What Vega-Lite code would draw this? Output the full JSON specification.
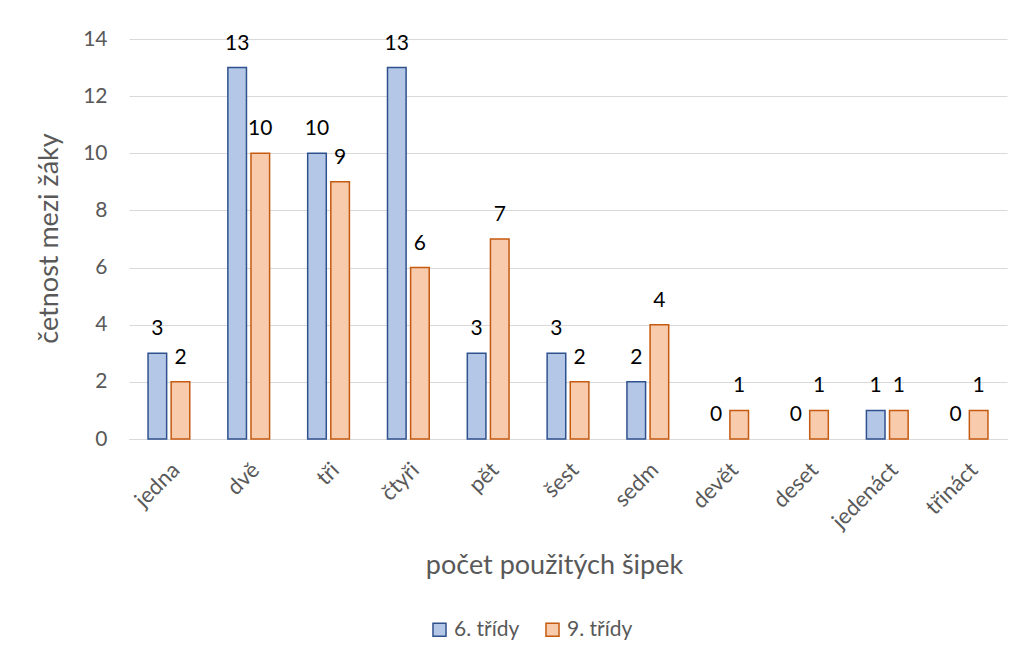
{
  "$schema": "https://vega.github.io/schema/vega-lite/v6.json",
  "width": 878,
  "height": 400,
  "autosize": {"type": "none"},
  "padding": {"left": 129, "top": 39, "right": 17, "bottom": 222},
  "background": "white",
  "config": {
    "font": "Lato",
    "view": {"stroke": null}
  },
  "data": {
    "values": [
      {"pocet": "jedna", "trida": "6. třídy", "n": 3},
      {"pocet": "jedna", "trida": "9. třídy", "n": 2},
      {"pocet": "dvě", "trida": "6. třídy", "n": 13},
      {"pocet": "dvě", "trida": "9. třídy", "n": 10},
      {"pocet": "tři", "trida": "6. třídy", "n": 10},
      {"pocet": "tři", "trida": "9. třídy", "n": 9},
      {"pocet": "čtyři", "trida": "6. třídy", "n": 13},
      {"pocet": "čtyři", "trida": "9. třídy", "n": 6},
      {"pocet": "pět", "trida": "6. třídy", "n": 3},
      {"pocet": "pět", "trida": "9. třídy", "n": 7},
      {"pocet": "šest", "trida": "6. třídy", "n": 3},
      {"pocet": "šest", "trida": "9. třídy", "n": 2},
      {"pocet": "sedm", "trida": "6. třídy", "n": 2},
      {"pocet": "sedm", "trida": "9. třídy", "n": 4},
      {"pocet": "devět", "trida": "6. třídy", "n": 0},
      {"pocet": "devět", "trida": "9. třídy", "n": 1},
      {"pocet": "deset", "trida": "6. třídy", "n": 0},
      {"pocet": "deset", "trida": "9. třídy", "n": 1},
      {"pocet": "jedenáct", "trida": "6. třídy", "n": 1},
      {"pocet": "jedenáct", "trida": "9. třídy", "n": 1},
      {"pocet": "třináct", "trida": "6. třídy", "n": 0},
      {"pocet": "třináct", "trida": "9. třídy", "n": 1}
    ]
  },
  "encoding": {
    "x": {
      "field": "pocet",
      "type": "nominal",
      "sort": null,
      "scale": {"paddingInner": 0.477, "paddingOuter": 0.2385},
      "axis": {
        "title": "počet použitých šipek",
        "labelAngle": -45,
        "labelFont": "Lato",
        "labelFontSize": 22,
        "labelColor": "#595959",
        "titleFont": "Lato",
        "titleFontSize": 27,
        "titleFontWeight": "normal",
        "titleColor": "#595959",
        "ticks": false,
        "domainColor": "#D9D9D9",
        "domainWidth": 1,
        "labelPadding": 20,
        "titleX": 425,
        "titleAlign": "center",
        "titleY": 126,
        "titleBaseline": "middle"
      }
    },
    "xOffset": {
      "field": "trida",
      "type": "nominal",
      "sort": ["6. třídy", "9. třídy"],
      "scale": {"paddingInner": 0.195, "paddingOuter": 0}
    },
    "y": {
      "field": "n",
      "type": "quantitative",
      "scale": {"domain": [0, 14], "nice": false},
      "axis": {
        "title": "četnost mezi žáky",
        "values": [0, 2, 4, 6, 8, 10, 12, 14],
        "labelFont": "Lato",
        "labelFontSize": 21,
        "labelColor": "#595959",
        "titleFont": "Lato",
        "titleFontSize": 27,
        "titleFontWeight": "normal",
        "titleColor": "#595959",
        "grid": true,
        "gridColor": "#D9D9D9",
        "gridWidth": 1,
        "domain": false,
        "ticks": false,
        "labelPadding": 22,
        "titleX": -80,
        "titleY": 199,
        "titleBaseline": "middle"
      }
    }
  },
  "layer": [
    {
      "transform": [{"filter": "datum.n > 0"}],
      "mark": {"type": "bar", "strokeWidth": 1.5},
      "encoding": {
        "fill": {
          "field": "trida",
          "type": "nominal",
          "scale": {"domain": ["6. třídy", "9. třídy"], "range": ["#B4C7E7", "#F8CBAD"]},
          "legend": {
            "title": null,
            "orient": "none",
            "legendX": 300,
            "legendY": 580,
            "direction": "horizontal",
            "symbolType": "square",
            "symbolSize": 170,
            "symbolStrokeWidth": 1.5,
            "columnPadding": 22,
            "labelOffset": 4,
            "labelFont": "Lato",
            "labelFontSize": 21,
            "labelColor": "#595959"
          }
        },
        "stroke": {
          "field": "trida",
          "type": "nominal",
          "scale": {"domain": ["6. třídy", "9. třídy"], "range": ["#2F528F", "#C55A11"]},
          "legend": {
            "title": null,
            "orient": "none",
            "legendX": 300,
            "legendY": 580,
            "direction": "horizontal",
            "symbolType": "square",
            "symbolSize": 170,
            "symbolStrokeWidth": 1.5,
            "columnPadding": 22,
            "labelOffset": 4,
            "labelFont": "Lato",
            "labelFontSize": 21,
            "labelColor": "#595959"
          }
        }
      }
    },
    {
      "mark": {"type": "text", "baseline": "bottom", "dy": -14, "fontSize": 21, "color": "#000000", "font": "Lato"},
      "encoding": {
        "text": {"field": "n", "type": "quantitative"}
      }
    }
  ]
}
